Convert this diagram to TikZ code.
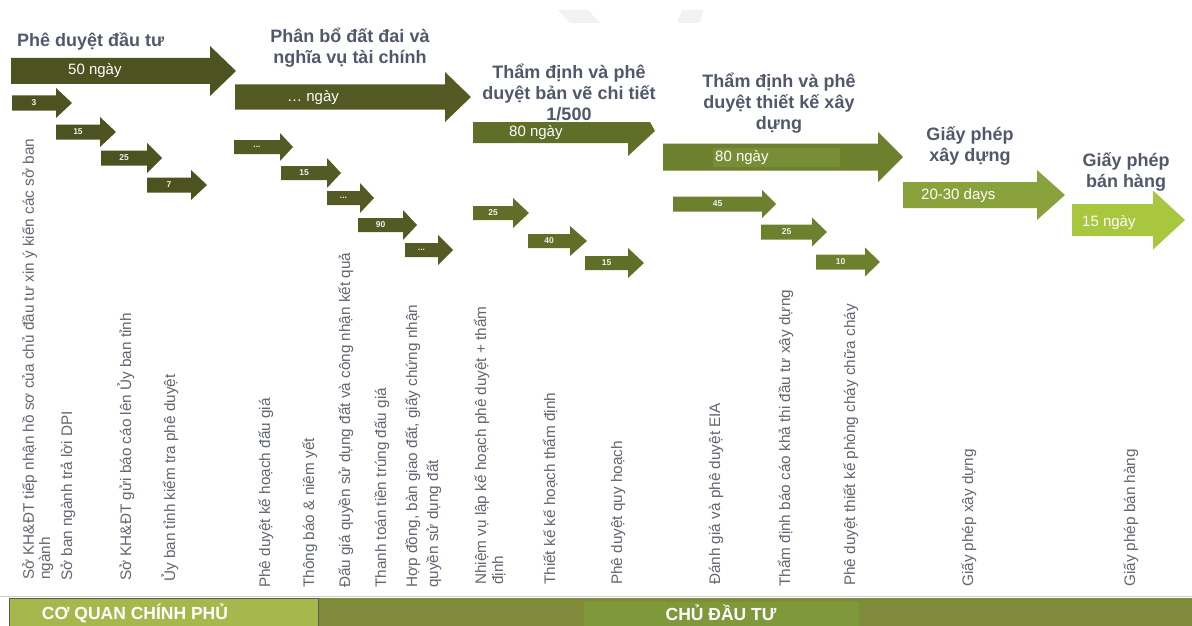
\documentclass[tikz,border=0pt]{standalone}
\usepackage{fontspec}
\setmainfont{Liberation Sans}
\definecolor{titlec}{RGB}{80,88,106}
\definecolor{labc}{RGB}{98,102,112}
\definecolor{gone}{RGB}{76,82,32}
\definecolor{gtwo}{RGB}{84,90,36}
\definecolor{gthree}{RGB}{96,110,40}
\definecolor{gfour}{RGB}{108,128,46}
\definecolor{gfourin}{RGB}{120,142,54}
\definecolor{gfive}{RGB}{138,162,60}
\definecolor{gsix}{RGB}{168,198,62}
\definecolor{barleft}{RGB}{166,184,76}
\definecolor{barright}{RGB}{127,139,58}
\definecolor{barmid}{RGB}{127,152,57}
\definecolor{markc}{RGB}{242,242,242}

% block arrow: x-left, x-head-base, x-tip, y-centre, body half-height, head half-height, colour, name
\newcommand{\blockarrow}[8]{%
  \fill[#7] (#1,{#4-#5}) -- (#2,{#4-#5}) -- (#2,{#4-#6}) -- (#3,#4)
    -- (#2,{#4+#6}) -- (#2,{#4+#5}) -- (#1,{#4+#5}) -- cycle;
  \coordinate (#8) at ({(#1+#2)/2},#4);}

\tikzset{
  title/.style={font=\fontsize{18}{21}\selectfont\bfseries, text=titlec, align=center, inner sep=0},
  days/.style={font=\fontsize{15}{17}\selectfont, text=white, inner sep=0, anchor=west},
  small/.style={font=\fontsize{8.5}{10}\selectfont\bfseries, text=white!88!gray, inner sep=0},
  vlab/.style={rotate=90, anchor=base west, inner sep=0, font=\fontsize{15.3}{17}\selectfont, text=labc},
  bartext/.style={font=\fontsize{17.5}{20}\selectfont\bfseries, text=white, inner sep=0}
}

\begin{document}
\begin{tikzpicture}[x=1pt,y=-1pt]
\useasboundingbox (0,0) rectangle (1192,626);

% faint marks at the top
\fill[markc] (558,10) -- (588,10) -- (600,23) -- (570,23) -- cycle;
\fill[markc] (682,10) -- (703,10) -- (700,23) -- (677,23) -- cycle;

% ---------- Phê duyệt đầu tư ----------
\node[title, anchor=west] (t1) at (17,41) {Phê duyệt đầu tư};
\blockarrow{11}{210}{236}{71}{13}{25}{gone}{b1}
\node[days] (d1) at (68,71) {50 ngày};
\blockarrow{12}{56}{72}{103}{7.5}{15}{gone}{s11}
\blockarrow{56}{100}{116}{132}{7.5}{15}{gone}{s12}
\blockarrow{101}{147}{162}{158}{7.5}{15}{gone}{s13}
\blockarrow{147}{191}{207}{185}{7.5}{15}{gone}{s14}
\node[small] at (s11) {3};
\node[small] at (s12) {15};
\node[small] at (s13) {25};
\node[small] at (s14) {7};

% ---------- Phân bổ đất đai và nghĩa vụ tài chính ----------
\node[title] (t2) at (350,48) {Phân bổ đất đai và\\nghĩa vụ tài chính};
\blockarrow{235}{445}{471}{97}{12.5}{25}{gtwo}{b2}
\node[days] (d2) at (287,98) {\dots\ ngày};
\blockarrow{234}{280}{293}{147}{7}{14}{gtwo}{s21}
\blockarrow{281}{327}{341}{173}{7}{15}{gtwo}{s22}
\blockarrow{327}{360}{374}{198}{7}{15}{gtwo}{s23}
\blockarrow{358}{403}{417}{225}{7}{15}{gtwo}{s24}
\blockarrow{405}{438}{453}{250}{7}{15}{gtwo}{s25}
\node[small] at (s21) {...};
\node[small] at (s22) {15};
\node[small] at (s23) {...};
\node[small] at (s24) {90};
\node[small] at (s25) {...};

% ---------- Thẩm định và phê duyệt bản vẽ chi tiết 1/500 ----------
\node[title] (t3) at (569,92) {Thẩm định và phê\\duyệt bản vẽ chi tiết\\1/500};
\fill[gthree] (473,122) -- (650,122) -- (655,131) -- (628,156) -- (628,143) -- (473,143) -- cycle;
\coordinate (b3) at (550,133);
\node[days] (d3) at (509,133) {80 ngày};
\blockarrow{473}{513}{529}{213}{7}{15}{gthree}{s31}
\blockarrow{528}{570}{587}{241}{7}{15}{gthree}{s32}
\blockarrow{585}{628}{644}{263}{7}{15}{gthree}{s33}
\node[small] at (s31) {25};
\node[small] at (s32) {40};
\node[small] at (s33) {15};

% ---------- Thẩm định và phê duyệt thiết kế xây dựng ----------
\node[title] (t4) at (779,103) {Thẩm định và phê\\duyệt thiết kế xây\\dựng};
\blockarrow{663}{878}{903}{157}{13.5}{25}{gfour}{b4}
\fill[gfourin] (713,148) rectangle (840,167);
\node[days] (d4) at (715,158) {80 ngày};
\blockarrow{673}{762}{776}{204}{7.5}{14}{gfour}{s41}
\blockarrow{761}{812}{827}{232}{7.5}{14.5}{gfour}{s42}
\blockarrow{816}{865}{880}{262}{7.5}{14.5}{gfour}{s43}
\node[small] at (s41) {45};
\node[small] at (s42) {25};
\node[small] at (s43) {10};

% ---------- Giấy phép xây dựng ----------
\node[title] (t5) at (970,146) {Giấy phép\\xây dựng};
\blockarrow{903}{1037}{1065}{195}{13}{25}{gfive}{b5}
\node[days] (d5) at (921,196) {20-30 days};

% ---------- Giấy phép bán hàng ----------
\node[title] (t6) at (1126,172) {Giấy phép\\bán hàng};
\blockarrow{1072}{1153}{1185}{220}{16}{29.5}{gsix}{b6}
\node[days] (d6) at (1082,223) {15 ngày};

% ---------- step descriptions ----------
\node[vlab] (v1a) at (34,580) {Sở KH\&ĐT  tiếp nhận hồ sơ của chủ đầu tư xin ý kiến các sở ban};
\node[vlab] (v1b) at (50,580) {ngành};
\node[vlab] (v2) at (72,581) {Sở ban ngành trả lời DPI};
\node[vlab] (v3) at (131,581) {Sở KH\&ĐT gửi báo cáo lên Ủy ban tỉnh};
\node[vlab] (v4) at (175,582) {Ủy ban tỉnh kiểm tra phê duyệt};

\node[vlab] (v5) at (270,588) {Phê duyệt kế hoạch đấu giá};
\node[vlab] (v6) at (314,588) {Thông báo \& niêm yết};
\node[vlab] (v7) at (350,588) {Đấu giá quyền sử dụng đất và công nhận kết quả};
\node[vlab] (v8) at (386,588) {Thanh toán tiền trúng đấu giá};
\node[vlab] (v9a) at (417,588) {Hợp đồng, bàn giao đất, giấy chứng nhận};
\node[vlab] (v9b) at (438,588) {quyền sử dụng đất};

\node[vlab] (v10a) at (486,585) {Nhiệm vụ lập kế hoạch phê duyệt + thẩm};
\node[vlab] (v10b) at (503,585) {định};
\node[vlab] (v11) at (555,585) {Thiết kế kế hoạch thẩm định};
\node[vlab] (v12) at (622,585) {Phê duyệt quy hoạch};
\node[vlab] (v13) at (720,585) {Đánh giá và phê duyệt EIA};
\node[vlab] (v14) at (790,587) {Thẩm định báo cáo khả thi đầu tư xây dựng};
\node[vlab] (v15) at (855,586) {Phê duyệt thiết kế phòng cháy chữa cháy};

\node[vlab] (v16) at (973,587) {Giấy phép xây dựng};
\node[vlab] (v17) at (1135,587) {Giấy phép bán hàng};

% ---------- bottom band ----------
\draw[gray!40, line width=0.8] (0,596.5) -- (1192,596.5);
\fill[barright] (318,598) rectangle (1192,626);
\fill[barmid] (584,602) rectangle (859,626);
\filldraw[fill=barleft, draw=black!65, line width=1] (9.5,598.5) rectangle (318,627);
\node[bartext] (gov) at (135,613) {CƠ QUAN CHÍNH PHỦ};
\node[bartext] (inv) at (721,613) {CHỦ ĐẦU TƯ};
\end{tikzpicture}
\end{document}
